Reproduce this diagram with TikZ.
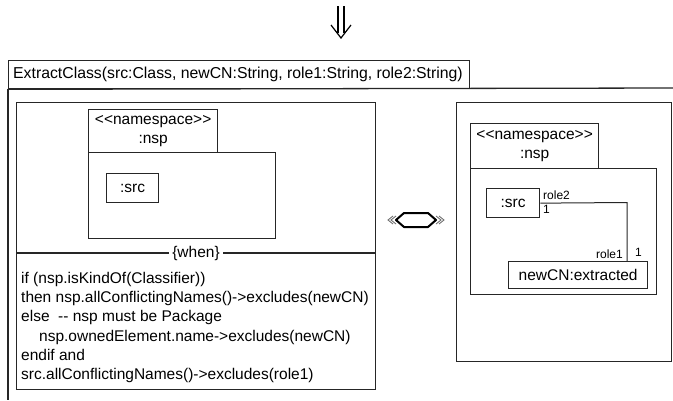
\documentclass[tikz,border=0pt]{standalone}
\usepackage{fontspec}
\setmainfont{Liberation Sans}[Ligatures=TeXOff]
\begin{document}
\begin{tikzpicture}[x=1pt,y=-1pt,
  ln/.style={line width=1.3pt, draw=black!85},
  box/.style={ln, rectangle, inner sep=0pt, anchor=north west, font=\fontsize{15.5}{19}\selectfont, align=center},
  small/.style={inner sep=0pt, font=\fontsize{12}{14}\selectfont},
  code/.style={inner sep=0pt, anchor=north west, align=left, font=\fontsize{15.5}{19.2}\selectfont}]
\useasboundingbox (0,0) rectangle (673,400);
% double down arrow
\draw[line width=1.2pt] (338,6) -- (338,33) (344,6) -- (344,33);
\draw[line width=1.2pt] (331,25) -- (341,38) -- (351,25);
% header
\node[box, minimum width=461pt, minimum height=28pt] (hdr) at (8,60) {};
\node[inner sep=0pt, anchor=west, font=\fontsize{15.8}{19}\selectfont] (hdrtxt) at ([xshift=5pt]hdr.west) {ExtractClass(src:Class, newCN:String, role1:String, role2:String)};
\coordinate (frr) at (673,88);
\coordinate (frb) at (8,400);
\draw[ln] (hdr.south west) -- (frr);
\draw[ln] (hdr.south west) -- (frb);
% left panel
\node[box, minimum width=359pt, minimum height=287pt] (lp) at (16,102) {};
\node[box, minimum width=129pt, minimum height=43pt] (ltab) at (88,109) {<<namespace>>\\:nsp};
\node[box, minimum width=187pt, minimum height=86pt] (lbody) at (88,152) {};
\node[box, minimum width=52pt, minimum height=29pt] (lsrc) at (106,173) {:src};
\coordinate (wl) at (16,253);
\coordinate (wr) at (375,253);
\draw[ln] (wl) -- (wr);
\node[fill=white, inner xsep=3pt, inner ysep=1pt, font=\fontsize{15.5}{18}\selectfont] (when) at (196,253) {\{when\}};
\node[code] (cond) at (21,272) {if (nsp.isKindOf(Classifier))\\
then nsp.allConflictingNames()->excludes(newCN)\\
else\ \ -- nsp must be Package\\
\hspace*{18pt}nsp.ownedElement.name->excludes(newCN)\\
endif and\\
src.allConflictingNames()->excludes(role1)};
% double hexagon symbol
\draw[line width=2pt, line join=round] (396,220) -- (404,213) -- (428,213) -- (436,220) -- (428,227) -- (404,227) -- cycle;
\draw[line width=0.8pt, black!60] (393,216) -- (388,220) -- (393,224) (396,216) -- (391,220) -- (396,224);
\draw[line width=0.8pt, black!60] (439,216) -- (444,220) -- (439,224) (436,216) -- (441,220) -- (436,224);
% right panel
\node[box, minimum width=215pt, minimum height=259pt] (rp) at (456,102) {};
\node[box, minimum width=128pt, minimum height=45pt] (rtab) at (470,123) {<<namespace>>\\:nsp};
\node[box, minimum width=186pt, minimum height=126pt] (rbody) at (470,168) {};
\node[box, minimum width=53pt, minimum height=29pt] (rsrc) at (486,188) {:src};
\node[box, minimum width=139pt, minimum height=27pt] (ncn) at (508,261) {newCN:extracted};
\coordinate (bend) at (627,202.5);
\draw[ln, line width=1pt] (rsrc.east) -- (bend) -- (bend |- ncn.north);
\node[small, anchor=south west] (r2) at (543,200) {role2};
\node[small, anchor=north west] (m1) at (543,205) {1};
\node[small, anchor=south east] (r1) at (623,259) {role1};
\node[small, anchor=south west] (m2) at (635,257) {1};
\end{tikzpicture}
\end{document}
